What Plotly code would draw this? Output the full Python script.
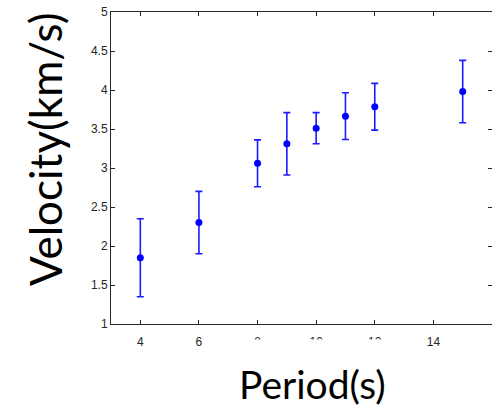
import plotly.graph_objects as go

period = [4, 6, 8, 9, 10, 11, 12, 15]
velocity = [1.85, 2.30, 3.06, 3.31, 3.51, 3.665, 3.785, 3.98]
error = [0.50, 0.40, 0.30, 0.40, 0.20, 0.30, 0.30, 0.40]
x_ticks = [4, 6, 8, 10, 12, 14, 16]
y_ticks = [1, 1.5, 2, 2.5, 3, 3.5, 4, 4.5, 5]

W, H = 492, 407
L, R, T, B = 111, 0, 12, 83
pw, ph = W - L - R, H - T - B

def px_x(p):
    return (p - L) / pw

def px_y(p):
    return (H - B - p) / ph

fig = go.Figure()
fig.add_trace(go.Scatter(
    x=period, y=velocity, mode="markers",
    marker=dict(color="#0000ff", size=7),
    error_y=dict(type="data", array=error, color="#1a1aff", thickness=1.6, width=3.5),
    showlegend=False,
))

axis_common = dict(
    showline=True, linecolor="#262626", linewidth=1, mirror="ticks",
    ticks="inside", ticklen=4, tickcolor="#262626", tickwidth=1,
    showgrid=False, zeroline=False,
    tickfont=dict(family="Liberation Sans, Arial", size=12, color="#262626"),
)

fig.update_layout(
    width=W, height=H,
    margin=dict(l=L, r=R, t=T, b=B, pad=0),
    paper_bgcolor="white", plot_bgcolor="white",
    xaxis=dict(range=[3, 16], tickvals=x_ticks, ticktext=[str(v) for v in x_ticks],
               ticklabelstandoff=7, **axis_common),
    yaxis=dict(range=[1, 5], tickvals=y_ticks, ticktext=[("%g" % v) for v in y_ticks], **axis_common),
    shapes=[dict(type="rect", xref="paper", yref="paper",
                 x0=px_x(226), x1=px_x(402), y0=px_y(339.5), y1=px_y(420),
                 fillcolor="white", line=dict(width=0), layer="above")],
    annotations=[
        dict(text="Period(s)", xref="paper", yref="paper", x=px_x(312), y=px_y(384),
             xanchor="center", yanchor="middle", showarrow=False,
             font=dict(family="Lato", size=39, color="black")),
        dict(text="Velocity(km/s)", xref="paper", yref="paper", x=px_x(45), y=px_y(150),
             xanchor="center", yanchor="middle", showarrow=False, textangle=-90,
             font=dict(family="Lato", size=44, color="black")),
    ],
)

fig.write_html("out.html")
